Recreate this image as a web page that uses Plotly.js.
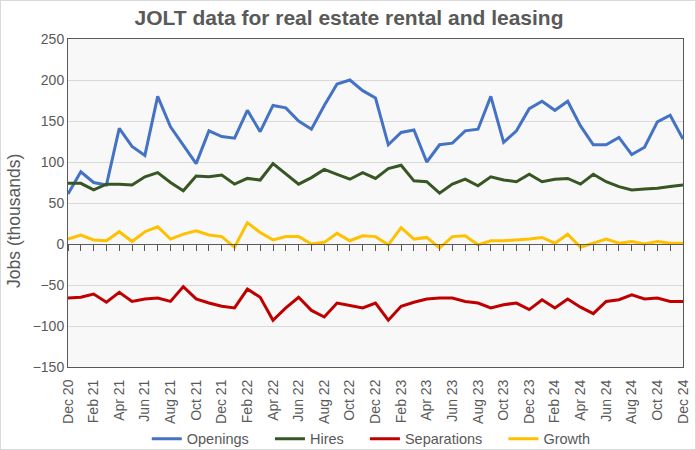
<!DOCTYPE html>
<html>
<head>
<meta charset="utf-8">
<script src="https://cdn.plot.ly/plotly-3.0.1.min.js"></script>
<style>
  html, body { margin: 0; padding: 0; background: #fff; }
  #chart { width: 696px; height: 450px; box-sizing: border-box; border: 1px solid #d9d9d9; }
</style>
</head>
<body>
<div id="chart"></div>
<script>
const months = ["Dec 20","Jan 21","Feb 21","Mar 21","Apr 21","May 21","Jun 21","Jul 21","Aug 21","Sep 21","Oct 21","Nov 21",
  "Dec 21","Jan 22","Feb 22","Mar 22","Apr 22","May 22","Jun 22","Jul 22","Aug 22","Sep 22","Oct 22","Nov 22",
  "Dec 22","Jan 23","Feb 23","Mar 23","Apr 23","May 23","Jun 23","Jul 23","Aug 23","Sep 23","Oct 23","Nov 23",
  "Dec 23","Jan 24","Feb 24","Mar 24","Apr 24","May 24","Jun 24","Jul 24","Aug 24","Sep 24","Oct 24","Nov 24","Dec 24"];
const tickLabels = ["Dec 20","Feb 21","Apr 21","Jun 21","Aug 21","Oct 21","Dec 21","Feb 22","Apr 22","Jun 22","Aug 22","Oct 22",
  "Dec 22","Feb 23","Apr 23","Jun 23","Aug 23","Oct 23","Dec 23","Feb 24","Apr 24","Jun 24","Aug 24","Oct 24","Dec 24"];

const openings = [61,88,75,72,141,119,108,180,143,120,98,138,131,129,163,137,169,166,150,140,169,195,200,187,178,
  121,136,139,100,121,123,138,140,180,124,138,165,174,163,174,144,121,121,130,109,118,149,157,128];
const hires = [74,74,66,73,73,72,82,87,75,65,83,82,84,73,80,78,98,85,73,81,91,85,79,87,80,
  92,96,77,76,62,73,79,71,82,78,76,85,76,79,80,73,85,76,70,66,67,68,70,72];
const separations = [-66,-65,-61,-71,-59,-70,-67,-66,-70,-52,-67,-72,-76,-78,-55,-65,-93,-78,-65,-81,-89,-72,-75,-78,-72,
  -93,-76,-71,-67,-66,-66,-70,-72,-78,-74,-72,-80,-68,-78,-67,-77,-85,-70,-68,-62,-67,-66,-70,-70];
const growth = [6,11,5,4,15,3,15,21,6,12,16,11,9,-4,26,14,5,9,9,0,2,13,4,10,9,
  -1,20,6,8,-5,9,10,-1,4,4,5,6,8,1,12,-4,1,6,1,3,0,3,1,1];

const FONT = '"Liberation Sans Narrow", "Arial Narrow", "Liberation Sans", Arial, sans-serif';
const GREY = '#595959';
const PAD = '\u00a0\u00a0\u00a0\u00a0';

function tr(name, y, color, xa, pad) {
  return { type: 'scatter', mode: 'lines', name: name + (pad || ''), x: months, y: y, xaxis: xa || 'x', yaxis: 'y',
    line: { color: color, width: 3 }, hovertemplate: name + ': %{y}<extra>%{x}</extra>' };
}

const data = [
  tr('Openings', openings, '#4472C4', 'x', PAD),
  tr('Hires', hires, '#375623', 'x', PAD),
  tr('Separations', separations, '#C00000', 'x', PAD),
  tr('Growth', growth, '#FFC000', 'x2')
];

const layout = {
  width: 696, height: 450,
  margin: { l: 67, r: 14, t: 38, b: 84 },
  paper_bgcolor: 'rgba(0,0,0,0)',
  plot_bgcolor: '#f8f8f8',
  font: { family: FONT, color: GREY, size: 13 },
  title: { text: 'JOLT data for real estate rental and leasing', x: 0.5, xref: 'container', y: 0.962, yref: 'container', yanchor: 'middle',
    font: { family: FONT, size: 21, color: GREY, weight: 'bold' } },
  showlegend: true,
  legend: { orientation: 'h', x: 0.532, xref: 'container', xanchor: 'center', y: 0.027, yref: 'container', yanchor: 'middle',
    font: { family: FONT, size: 14.5, color: GREY }, bgcolor: 'rgba(0,0,0,0)', itemwidth: 30 },
  xaxis: {
    type: 'category', categoryorder: 'array', categoryarray: months, range: [0, 48],
    tickmode: 'array', tickvals: tickLabels, ticktext: tickLabels, tickangle: -90,
    ticks: '', ticklabelstandoff: 6, showgrid: false, zeroline: false,
    showline: true, mirror: true, linecolor: GREY, linewidth: 1,
    tickfont: { family: FONT, size: 14, color: GREY }
  },
  xaxis2: {
    type: 'category', categoryorder: 'array', categoryarray: months, range: [0, 48],
    overlaying: 'x', anchor: 'free', position: 0.375, side: 'bottom',
    tickmode: 'array', tickvals: months, ticks: 'outside', ticklen: 6, tickcolor: GREY, tickwidth: 1,
    showticklabels: false, showgrid: false, zeroline: false,
    showline: true, linecolor: GREY, linewidth: 1
  },
  yaxis: {
    range: [-150, 250], dtick: 50, tick0: 0,
    showgrid: true, gridcolor: '#d9d9d9', gridwidth: 1, zeroline: false,
    showline: true, mirror: true, linecolor: GREY, linewidth: 1, ticks: '',
    tickfont: { family: FONT, size: 14, color: GREY }
  },
  annotations: [{
    text: 'Jobs (thousands)', textangle: -90, showarrow: false,
    xref: 'paper', x: -0.088, xanchor: 'center', yref: 'paper', y: 0.445, yanchor: 'middle',
    font: { family: FONT, size: 17.5, color: GREY }
  }]
};

Plotly.newPlot('chart', data, layout, { displayModeBar: false, responsive: false });
</script>
</body>
</html>
